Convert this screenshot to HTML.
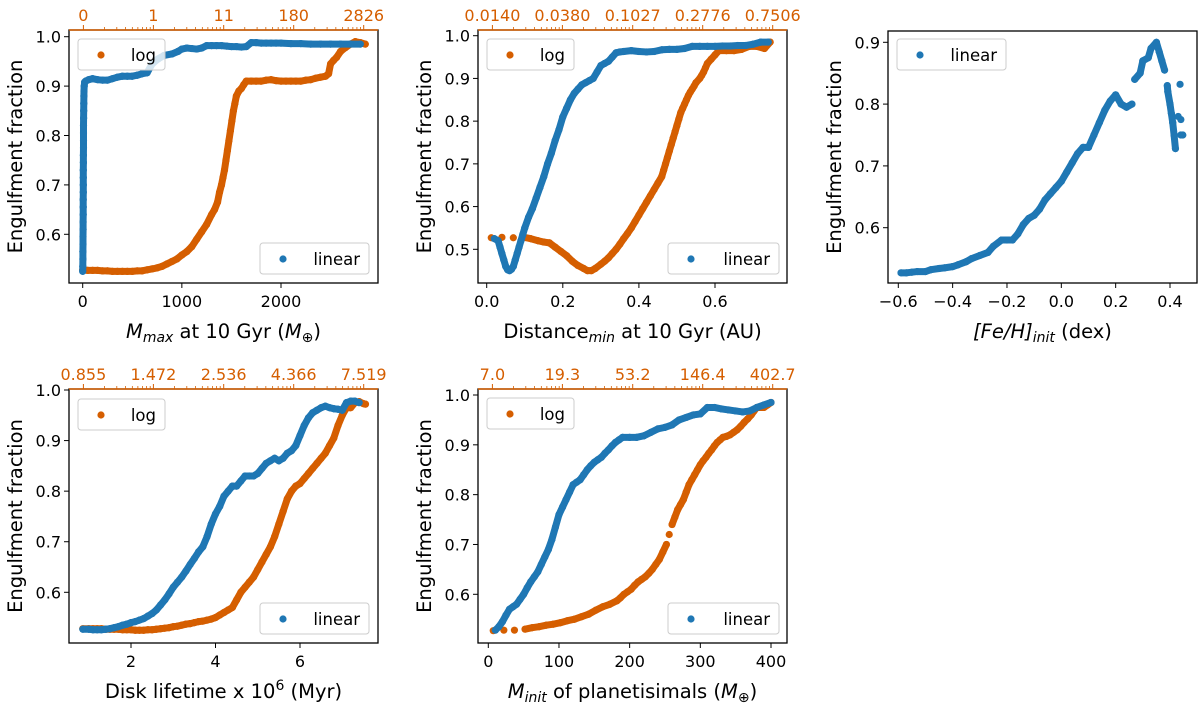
<!DOCTYPE html>
<html><head><meta charset="utf-8"><style>
body{margin:0;background:#fff;}
svg{display:block;font-family:"DejaVu Sans","Liberation Sans",sans-serif;}
</style></head><body>
<svg id="fig" width="1200" height="703" viewBox="0 0 1200 703"></svg>
<script>
// ---- data ----
const p1Blue=[[0,0.525],[1,0.535],[2,0.55],[2,0.565],[3,0.58],[3,0.595],[4,0.61],[4,0.625],[5,0.64],[5,0.655],[5,0.67],[6,0.685],[6,0.70],[6,0.715],[6,0.73],[7,0.745],[7,0.76],[8,0.775],[8,0.79],[8,0.805],[8,0.82],[9,0.835],[10,0.85],[11,0.865],[12,0.88],[13,0.89],[15,0.90],[20,0.908],[30,0.91],[60,0.913],[100,0.915],[150,0.913],[200,0.912],[250,0.912],[300,0.915],[350,0.918],[400,0.92],[450,0.92],[500,0.92],[550,0.922],[600,0.925],[650,0.927],[700,0.945],[760,0.955],[820,0.962],[900,0.965],[960,0.97],[1000,0.975],[1050,0.977],[1100,0.976],[1150,0.975],[1200,0.977],[1250,0.982],[1300,0.982],[1350,0.982],[1400,0.982],[1450,0.981],[1500,0.98],[1550,0.98],[1600,0.979],[1650,0.98],[1700,0.988],[1750,0.988],[1800,0.987],[1850,0.987],[1900,0.987],[1950,0.987],[2000,0.987],[2100,0.986],[2200,0.986],[2300,0.985],[2400,0.985],[2500,0.985],[2600,0.985],[2700,0.985],[2800,0.985]];
const p1Orange=[[0,0.528],[50,0.527],[100,0.527],[150,0.527],[200,0.526],[250,0.526],[300,0.525],[350,0.525],[400,0.525],[450,0.525],[500,0.525],[550,0.526],[600,0.526],[650,0.528],[700,0.53],[750,0.532],[800,0.535],[850,0.54],[900,0.545],[950,0.55],[1000,0.558],[1050,0.565],[1100,0.575],[1150,0.59],[1200,0.605],[1250,0.62],[1300,0.64],[1330,0.65],[1360,0.665],[1380,0.685],[1400,0.7],[1415,0.715],[1430,0.73],[1445,0.75],[1460,0.77],[1475,0.79],[1490,0.81],[1505,0.83],[1520,0.85],[1535,0.865],[1550,0.88],[1575,0.89],[1600,0.895],[1625,0.903],[1650,0.91],[1700,0.91],[1750,0.91],[1800,0.91],[1850,0.912],[1900,0.913],[1950,0.911],[2000,0.91],[2050,0.91],[2100,0.91],[2150,0.91],[2200,0.91],[2250,0.912],[2300,0.913],[2350,0.916],[2400,0.918],[2450,0.92],[2480,0.925],[2500,0.945],[2530,0.952],[2560,0.958],[2600,0.97],[2650,0.978],[2700,0.985],[2750,0.99],[2800,0.988],[2850,0.985]];
const p2Blue=[[0.02,0.525],[0.03,0.52],[0.035,0.505],[0.04,0.49],[0.045,0.475],[0.05,0.46],[0.055,0.452],[0.06,0.45],[0.065,0.453],[0.07,0.46],[0.075,0.475],[0.08,0.49],[0.085,0.505],[0.09,0.52],[0.095,0.535],[0.10,0.55],[0.11,0.575],[0.12,0.595],[0.13,0.62],[0.14,0.645],[0.15,0.67],[0.16,0.70],[0.17,0.725],[0.18,0.755],[0.19,0.78],[0.20,0.81],[0.21,0.83],[0.22,0.85],[0.23,0.865],[0.24,0.875],[0.25,0.885],[0.26,0.89],[0.27,0.895],[0.28,0.9],[0.29,0.915],[0.30,0.93],[0.31,0.935],[0.32,0.94],[0.33,0.95],[0.34,0.96],[0.35,0.962],[0.36,0.963],[0.38,0.965],[0.40,0.963],[0.42,0.962],[0.44,0.963],[0.46,0.967],[0.48,0.968],[0.50,0.968],[0.52,0.97],[0.54,0.975],[0.56,0.975],[0.58,0.975],[0.60,0.975],[0.62,0.976],[0.64,0.976],[0.66,0.977],[0.68,0.977],[0.70,0.98],[0.72,0.985],[0.74,0.985]];
const p2Orange=[[0.012,0.527],[0.04,0.528],[0.07,0.527],[0.098,0.528],[0.115,0.525],[0.135,0.52],[0.15,0.517],[0.165,0.515],[0.18,0.505],[0.195,0.495],[0.21,0.485],[0.225,0.472],[0.24,0.462],[0.255,0.455],[0.265,0.45],[0.275,0.45],[0.285,0.455],[0.30,0.465],[0.31,0.472],[0.32,0.48],[0.33,0.49],[0.34,0.5],[0.35,0.512],[0.36,0.525],[0.37,0.537],[0.38,0.55],[0.39,0.565],[0.40,0.58],[0.41,0.595],[0.42,0.61],[0.43,0.625],[0.44,0.64],[0.45,0.655],[0.46,0.67],[0.465,0.685],[0.47,0.70],[0.475,0.715],[0.48,0.73],[0.485,0.745],[0.49,0.76],[0.495,0.775],[0.50,0.79],[0.505,0.805],[0.51,0.82],[0.515,0.83],[0.52,0.84],[0.525,0.85],[0.53,0.86],[0.535,0.868],[0.54,0.875],[0.545,0.882],[0.55,0.89],[0.56,0.9],[0.565,0.907],[0.57,0.915],[0.575,0.925],[0.58,0.935],[0.59,0.945],[0.60,0.955],[0.61,0.965],[0.63,0.965],[0.65,0.965],[0.67,0.968],[0.69,0.975],[0.71,0.975],[0.73,0.97],[0.745,0.985]];
const p3Blue=[[-0.59,0.527],[-0.57,0.527],[-0.55,0.528],[-0.53,0.529],[-0.5,0.529],[-0.48,0.532],[-0.45,0.534],[-0.43,0.535],[-0.4,0.537],[-0.38,0.54],[-0.35,0.545],[-0.33,0.55],[-0.3,0.555],[-0.27,0.56],[-0.25,0.57],[-0.22,0.58],[-0.2,0.58],[-0.18,0.58],[-0.16,0.59],[-0.14,0.605],[-0.12,0.615],[-0.1,0.62],[-0.08,0.63],[-0.06,0.645],[-0.04,0.655],[-0.02,0.665],[0.0,0.675],[0.02,0.69],[0.04,0.705],[0.06,0.72],[0.08,0.73],[0.1,0.73],[0.12,0.75],[0.14,0.77],[0.16,0.79],[0.18,0.805],[0.2,0.815],[0.22,0.8],[0.24,0.795],[0.26,0.8],[0.27,0.84],[0.29,0.85],[0.3,0.87],[0.32,0.875],[0.33,0.89],[0.35,0.9],[0.36,0.885],[0.37,0.87],[0.38,0.855],[0.39,0.83],[0.392,0.82],[0.40,0.8],[0.405,0.785],[0.41,0.77],[0.415,0.75],[0.42,0.728],[0.43,0.78],[0.437,0.832],[0.44,0.775],[0.447,0.75],[0.44,0.75]];
const p4Blue=[[0.86,0.527],[1.0,0.527],[1.1,0.526],[1.2,0.526],[1.3,0.526],[1.4,0.527],[1.5,0.528],[1.6,0.53],[1.7,0.532],[1.8,0.535],[1.9,0.537],[2.0,0.54],[2.1,0.542],[2.2,0.545],[2.3,0.548],[2.4,0.553],[2.5,0.558],[2.6,0.565],[2.7,0.575],[2.8,0.585],[2.9,0.597],[3.0,0.61],[3.1,0.62],[3.2,0.63],[3.3,0.642],[3.4,0.655],[3.5,0.667],[3.6,0.68],[3.7,0.69],[3.8,0.71],[3.9,0.735],[4.0,0.755],[4.1,0.77],[4.2,0.79],[4.3,0.8],[4.4,0.81],[4.5,0.81],[4.6,0.82],[4.7,0.83],[4.8,0.83],[4.9,0.83],[5.0,0.835],[5.1,0.845],[5.2,0.855],[5.3,0.86],[5.4,0.865],[5.5,0.86],[5.6,0.865],[5.7,0.875],[5.8,0.88],[5.9,0.89],[6.0,0.91],[6.1,0.93],[6.2,0.945],[6.3,0.955],[6.4,0.96],[6.5,0.965],[6.6,0.968],[6.7,0.965],[6.8,0.963],[6.9,0.962],[7.0,0.96],[7.1,0.975],[7.2,0.978],[7.3,0.978],[7.4,0.975]];
const p4Orange=[[0.86,0.528],[1.0,0.528],[1.1,0.528],[1.2,0.528],[1.3,0.528],[1.4,0.527],[1.5,0.527],[1.6,0.527],[1.7,0.527],[1.8,0.526],[1.9,0.526],[2.0,0.526],[2.1,0.525],[2.2,0.525],[2.3,0.525],[2.4,0.526],[2.5,0.526],[2.6,0.527],[2.7,0.528],[2.8,0.529],[2.9,0.53],[3.0,0.532],[3.1,0.533],[3.2,0.535],[3.3,0.537],[3.4,0.538],[3.5,0.54],[3.6,0.542],[3.7,0.543],[3.8,0.545],[3.9,0.547],[4.0,0.55],[4.1,0.555],[4.2,0.56],[4.3,0.565],[4.4,0.57],[4.5,0.585],[4.6,0.6],[4.7,0.61],[4.8,0.62],[4.9,0.63],[5.0,0.645],[5.1,0.66],[5.2,0.675],[5.3,0.69],[5.4,0.71],[5.5,0.735],[5.6,0.76],[5.7,0.785],[5.8,0.8],[5.9,0.81],[6.0,0.815],[6.1,0.825],[6.2,0.835],[6.3,0.845],[6.4,0.855],[6.5,0.865],[6.6,0.875],[6.7,0.89],[6.8,0.905],[6.9,0.93],[7.0,0.95],[7.1,0.965],[7.2,0.965],[7.3,0.975],[7.4,0.977],[7.5,0.973],[7.55,0.972]];
const p5Blue=[[10,0.528],[15,0.535],[20,0.545],[25,0.558],[30,0.57],[35,0.575],[40,0.58],[45,0.59],[50,0.6],[55,0.613],[60,0.625],[65,0.635],[70,0.645],[75,0.66],[80,0.675],[85,0.69],[90,0.71],[95,0.735],[100,0.76],[105,0.775],[110,0.79],[115,0.805],[120,0.82],[125,0.825],[130,0.83],[135,0.84],[140,0.85],[145,0.858],[150,0.865],[155,0.87],[160,0.875],[165,0.883],[170,0.89],[175,0.898],[180,0.905],[185,0.91],[190,0.915],[200,0.915],[210,0.915],[220,0.918],[230,0.925],[240,0.932],[250,0.935],[260,0.94],[270,0.95],[280,0.955],[290,0.96],[300,0.962],[310,0.975],[320,0.975],[330,0.972],[340,0.97],[350,0.968],[360,0.966],[370,0.968],[380,0.975],[390,0.98],[400,0.985]];
const p5Orange=[[7,0.527],[22,0.528],[37,0.528],[52,0.53],[62,0.533],[72,0.535],[82,0.538],[92,0.54],[102,0.543],[112,0.547],[122,0.55],[132,0.555],[142,0.56],[152,0.568],[162,0.575],[172,0.58],[182,0.587],[187,0.593],[192,0.6],[197,0.605],[202,0.61],[207,0.618],[212,0.625],[217,0.63],[222,0.635],[227,0.642],[232,0.65],[237,0.66],[242,0.67],[247,0.685],[252,0.7],[256,0.72],[260,0.74],[264,0.755],[268,0.77],[272,0.78],[276,0.79],[280,0.805],[284,0.82],[288,0.83],[292,0.84],[296,0.85],[300,0.86],[304,0.868],[308,0.875],[312,0.883],[316,0.89],[320,0.898],[324,0.905],[328,0.91],[332,0.915],[337,0.917],[342,0.92],[347,0.925],[352,0.93],[357,0.937],[362,0.945],[367,0.952],[372,0.96],[376,0.968],[380,0.975],[385,0.975],[390,0.975],[395,0.98],[400,0.985]];
const p1TopLabels=["0","1","11","180","2826"];
const p2TopLabels=["0.0140","0.0380","0.1027","0.2776","0.7506"];
const p4TopLabels=["0.855","1.472","2.536","4.366","7.519"];
const p5TopLabels=["7.0","19.3","53.2","146.4","402.7"];
const p1XTicks=[0,1000,2000];
const p2XTicks=[0.0,0.2,0.4,0.6];
const p3XTicks=[-0.6,-0.4,-0.2,0.0,0.2,0.4];
const p4XTicks=[2,4,6];
const p5XTicks=[0,100,200,300,400];
const yTicksA=[0.6,0.7,0.8,0.9,1.0];
const yTicksB=[0.5,0.6,0.7,0.8,0.9,1.0];
const yTicksC=[0.6,0.7,0.8,0.9];

const BLUE="#1f77b4",ORANGE="#d55e00";
const NS="http://www.w3.org/2000/svg";
const fig=document.getElementById('fig');
function mk(tag,attrs,parent){const e=document.createElementNS(NS,tag);for(const k in attrs)e.setAttribute(k,attrs[k]);(parent||fig).appendChild(e);return e;}
function lin(v0,p0,v1,p1){return v=>p0+(v-v0)*(p1-p0)/(v1-v0);}

function panel(cfg){
  const g=mk('g',{});
  
  
  const X=lin(...cfg.xcal),Y=lin(...cfg.ycal);
  cfg.series.forEach(s=>{
    const sg=mk('g',{},g);
    
    
    const pts=s.data.map(d=>[X(d[0]),Y(d[1])]);
    for(let i=1;i<pts.length;i++){
      const dx=pts[i][0]-pts[i-1][0],dy=pts[i][1]-pts[i-1][1];
      if(Math.hypot(dx,dy)<=s.gap){
        const ln=mk('line',{x1:pts[i-1][0],y1:pts[i-1][1],x2:pts[i][0],y2:pts[i][1],stroke:s.color,'stroke-width':7,'stroke-linecap':'round'},sg);
        
        
      }
    }
    pts.forEach(p=>{
      const c=mk('circle',{cx:p[0],cy:p[1],r:3.6,fill:s.color},sg);
      
      
    });
  });
  cfg.legends.forEach(L=>{
    const lg=mk('g',{},g);
    
    
    mk('rect',{x:L.x,y:L.y,width:L.w,height:31,rx:3,fill:'#fff','fill-opacity':0.8,stroke:'#ccc','stroke-width':1},lg);
    mk('circle',{cx:L.x+23,cy:L.y+16,r:3.6,fill:L.color},lg);
    const t=mk('text',{x:L.x+L.w-9,y:L.y+22,'font-size':16.5,'text-anchor':'end',fill:'#000'},lg);
    t.textContent=L.label;
  });
  const {l,r,t,b}=cfg;
  const fr=mk('rect',{x:l,y:t,width:r-l,height:b-t,fill:'none',stroke:'#000','stroke-width':1.3},g);
  
  
  cfg.xticks.forEach(v=>{
    const x=X(v);
    mk('line',{x1:x,y1:b,x2:x,y2:b+5,stroke:'#000','stroke-width':1},g);
    const tx=mk('text',{x:x,y:b+24,'font-size':16,'text-anchor':'middle',fill:'#000'},g);
    
    
    tx.textContent=(v<0?'\u2212':'')+Math.abs(v).toFixed(cfg.xdec);
  });
  cfg.yticks.forEach(v=>{
    const y=Y(v);
    mk('line',{x1:l-5,y1:y,x2:l,y2:y,stroke:'#000','stroke-width':1},g);
    const ty=mk('text',{x:l-8,y:y+6,'font-size':16,'text-anchor':'end',fill:'#000'},g);
    
    
    ty.textContent=v.toFixed(1);
  });
  if(cfg.top){
    mk('line',{x1:l,y1:t,x2:r,y2:t,stroke:ORANGE,'stroke-width':1.5},g);
    const tp=[l+14.4,l+84.4,l+154.7,l+224.7,l+294.7];
    cfg.top.forEach((lab,i)=>{
      const x=tp[i];
      mk('line',{x1:x,y1:t,x2:x,y2:t-5,stroke:ORANGE,'stroke-width':1},g);
      const tt=mk('text',{x:x,y:t-9,'font-size':16,'text-anchor':'middle',fill:ORANGE},g);
      
      
      tt.textContent=lab;
      if(i<4){[2,3,4,5,6,7,8,9].forEach(m=>{const xm=x+70*Math.log10(m);mk('line',{x1:xm,y1:t,x2:xm,y2:t-3,stroke:ORANGE,'stroke-width':0.8},g);});}
    });
  }
  const yl=mk('text',{x:0,y:0,'font-size':19.5,'text-anchor':'middle',fill:'#000',transform:`translate(${l-47},${(t+b)/2}) rotate(-90)`},g);
  
  
  yl.textContent='Engulfment fraction';
  const xl=mk('text',{x:(l+r)/2,y:b+55,'font-size':19.5,'text-anchor':'middle',fill:'#000'},g);
  
  
  xl.innerHTML=cfg.xlabel;
}

panel({name:'panel-mmax',l:69,r:378,t:30,b:283,xcal:[0,82.7,2000,281],ycal:[0.6,234.3,1.0,36.7],
  xticks:p1XTicks,xdec:0,yticks:yTicksA,top:p1TopLabels,
  xlabel:'<tspan font-style="italic">M</tspan><tspan font-style="italic" font-size="14" dy="4">max</tspan><tspan dy="-4"> at 10 Gyr (</tspan><tspan font-style="italic">M</tspan><tspan font-size="14" dy="4">⊕</tspan><tspan dy="-4">)</tspan>',
  series:[{name:'series-log',data:p1Orange,color:ORANGE,gap:40},{name:'series-linear',data:p1Blue,color:BLUE,gap:40}],
  legends:[{label:'log',x:78,y:39,w:87,color:ORANGE},{label:'linear',x:260,y:243,w:109,color:BLUE}]});
panel({name:'panel-distance',l:478,r:787,t:30,b:283,xcal:[0,486.7,0.6,715],ycal:[0.5,249.3,1.0,35.7],
  xticks:p2XTicks,xdec:1,yticks:yTicksB,top:p2TopLabels,
  xlabel:'Distance<tspan font-size="14" font-style="italic" dy="4">min</tspan><tspan dy="-4"> at 10 Gyr (AU)</tspan>',
  series:[{name:'series-log',data:p2Orange,color:ORANGE,gap:10},{name:'series-linear',data:p2Blue,color:BLUE,gap:40}],
  legends:[{label:'log',x:487,y:39,w:87,color:ORANGE},{label:'linear',x:668,y:243,w:111,color:BLUE}]});
panel({name:'panel-feh',l:888,r:1197,t:31,b:283,xcal:[-0.6,898.3,0.4,1170],ycal:[0.6,227.7,0.9,42.3],
  xticks:p3XTicks,xdec:1,yticks:yTicksC,top:null,
  xlabel:'<tspan font-style="italic">[Fe/H]</tspan><tspan font-size="14" font-style="italic" dy="4">init</tspan><tspan dy="-4"> (dex)</tspan>',
  series:[{name:'series-linear',data:p3Blue,color:BLUE,gap:14}],
  legends:[{label:'linear',x:897,y:39,w:109,color:BLUE}]});
panel({name:'panel-disk-lifetime',l:69,r:378,t:389,b:643,xcal:[2,131,6,300],ycal:[0.6,592.3,1.0,390],
  xticks:p4XTicks,xdec:0,yticks:yTicksA,top:p4TopLabels,
  xlabel:'Disk lifetime x 10<tspan font-size="14" dy="-8">6</tspan><tspan dy="8"> (Myr)</tspan>',
  series:[{name:'series-log',data:p4Orange,color:ORANGE,gap:40},{name:'series-linear',data:p4Blue,color:BLUE,gap:40}],
  legends:[{label:'log',x:78,y:399,w:87,color:ORANGE},{label:'linear',x:260,y:603,w:109,color:BLUE}]});
panel({name:'panel-minit',l:478,r:787,t:389,b:643,xcal:[0,488.3,400,771],ycal:[0.6,594.3,1.0,395],
  xticks:p5XTicks,xdec:0,yticks:yTicksA,top:p5TopLabels,
  xlabel:'<tspan font-style="italic">M</tspan><tspan font-style="italic" font-size="14" dy="4">init</tspan><tspan dy="-4"> of planetisimals (</tspan><tspan font-style="italic">M</tspan><tspan font-size="14" dy="4">⊕</tspan><tspan dy="-4">)</tspan>',
  series:[{name:'series-log',data:p5Orange,color:ORANGE,gap:10},{name:'series-linear',data:p5Blue,color:BLUE,gap:40}],
  legends:[{label:'log',x:487,y:398,w:87,color:ORANGE},{label:'linear',x:668,y:603,w:111,color:BLUE}]});
</script>
</body></html>
